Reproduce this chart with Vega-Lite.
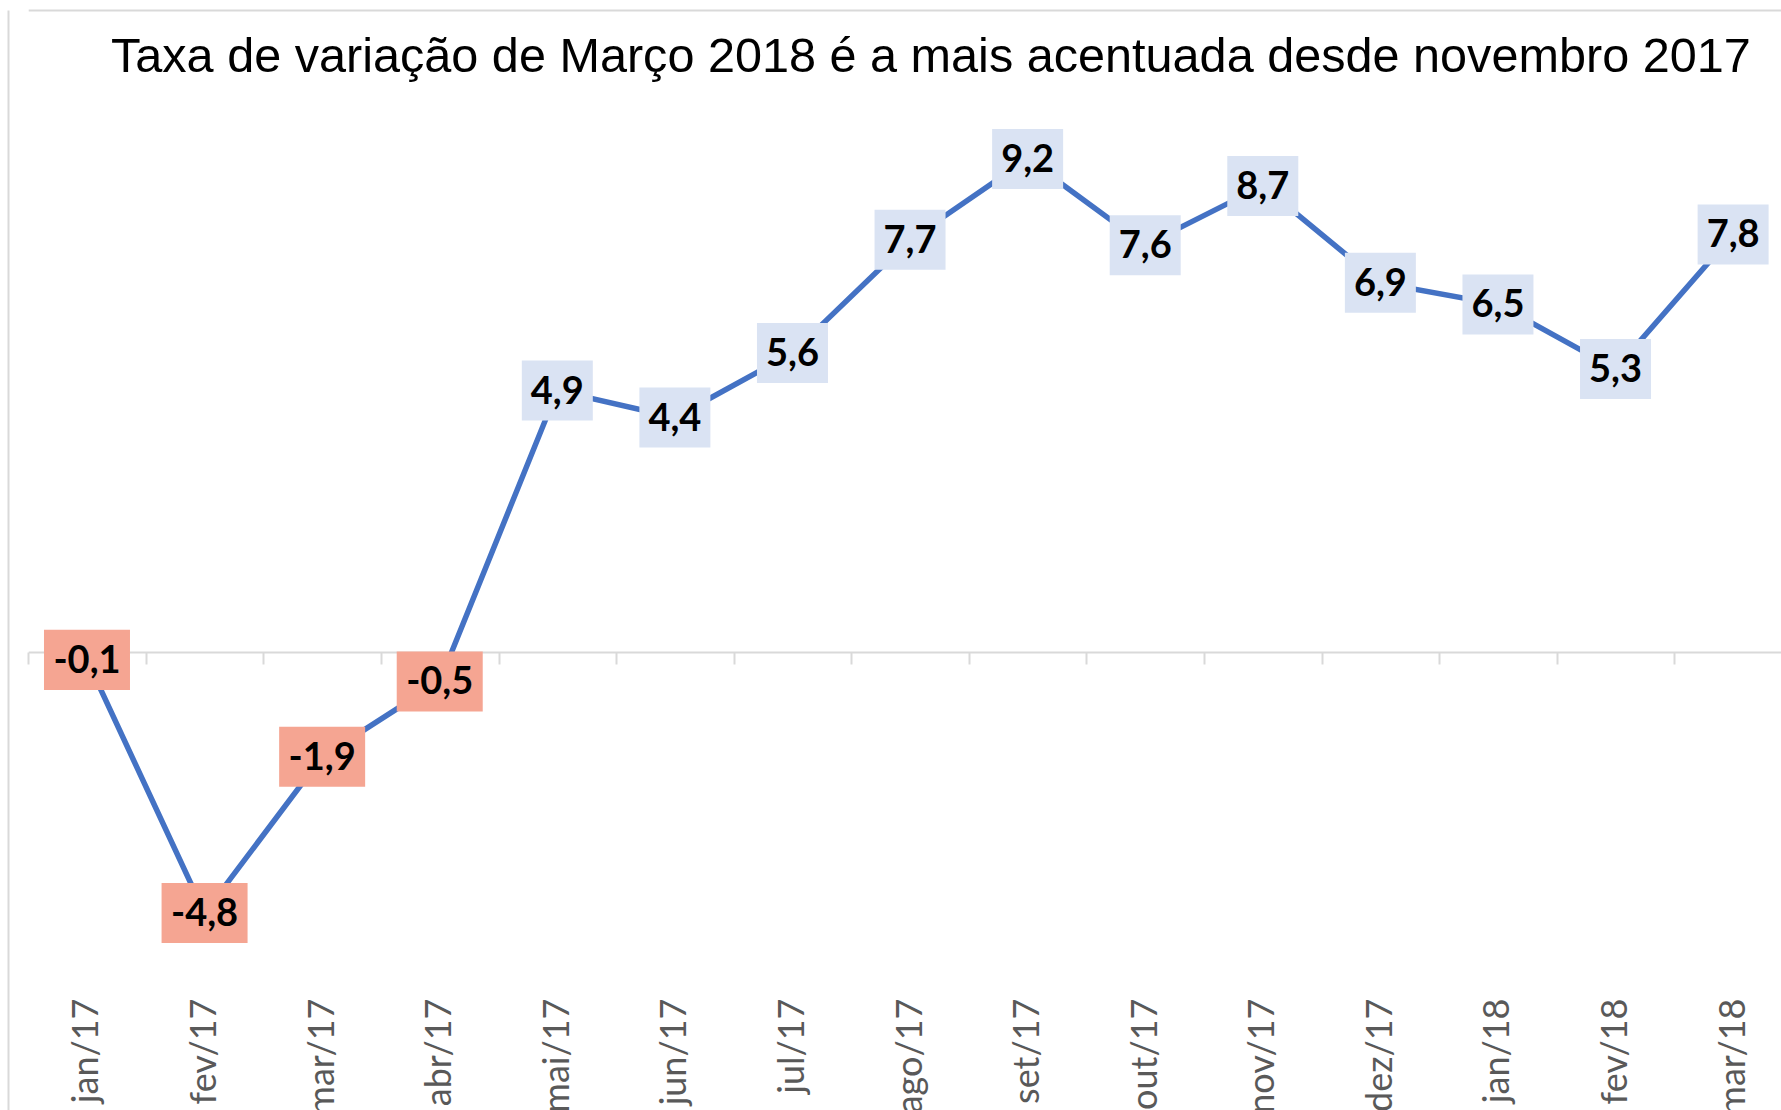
{
  "$schema": "https://vega.github.io/schema/vega-lite/v6.json",
  "autosize": "none",
  "width": 1773,
  "height": 1100,
  "padding": {"left": 8, "top": 10, "right": 0, "bottom": 0},
  "background": "white",
  "title": {
    "text": "Taxa de variação de Março 2018 é a mais acentuada desde novembro 2017",
    "font": "Liberation Sans",
    "fontSize": 48.6,
    "fontWeight": "normal",
    "color": "#000000",
    "anchor": "start",
    "frame": "group",
    "orient": "top",
    "offset": 0,
    "baseline": "alphabetic",
    "dx": 103,
    "dy": 111
  },
  "data": {
    "values": [
      {"mes": "jan/17", "v": -0.1},
      {"mes": "fev/17", "v": -4.8},
      {"mes": "mar/17", "v": -1.9},
      {"mes": "abr/17", "v": -0.5},
      {"mes": "mai/17", "v": 4.9},
      {"mes": "jun/17", "v": 4.4},
      {"mes": "jul/17", "v": 5.6},
      {"mes": "ago/17", "v": 7.7},
      {"mes": "set/17", "v": 9.2},
      {"mes": "out/17", "v": 7.6},
      {"mes": "nov/17", "v": 8.7},
      {"mes": "dez/17", "v": 6.9},
      {"mes": "jan/18", "v": 6.5},
      {"mes": "fev/18", "v": 5.3},
      {"mes": "mar/18", "v": 7.8}
    ]
  },
  "encoding": {
    "x": {
      "field": "mes",
      "type": "nominal",
      "sort": null,
      "scale": {"type": "band", "range": [20.2, 1783.9], "paddingInner": 0, "paddingOuter": 0},
      "axis": {
        "orient": "bottom",
        "offset": -458,
        "title": null,
        "domainColor": "#d9d9d9",
        "domainWidth": 2,
        "tickColor": "#d9d9d9",
        "tickWidth": 2,
        "tickSize": 12,
        "tickBand": "extent",
        "labelAngle": -90,
        "labelPadding": 334,
        "labelFont": "Lato",
        "labelFontSize": 36,
        "labelColor": "#595959",
        "labelOverlap": false,
        "grid": false,
        "encode": {"ticks": {"enter": {"y": {"value": -9}}, "update": {"y": {"value": -9}}}}
      }
    },
    "y": {
      "field": "v",
      "type": "quantitative",
      "scale": {"domain": [-8.457, 11.966], "nice": false, "zero": false},
      "axis": {
        "orient": "left",
        "title": null,
        "labels": false,
        "ticks": false,
        "domain": true,
        "domainColor": "#d9d9d9",
        "domainWidth": 2,
        "grid": true,
        "gridColor": "#d9d9d9",
        "gridWidth": 2,
        "values": [11.966]
      }
    }
  },
  "layer": [
    {
      "mark": {"type": "line", "color": "#4472c4", "strokeWidth": 5.5}
    },
    {
      "transform": [{"filter": "datum.v >= 0"}],
      "mark": {"type": "point", "shape": "M-1,-0.845H1V0.845H-1Z", "size": 5041, "filled": true, "fill": "#dae3f3", "opacity": 1, "strokeWidth": 0}
    },
    {
      "transform": [{"filter": "datum.v < 0"}],
      "mark": {"type": "point", "shape": "M-1,-0.698H1V0.698H-1Z", "size": 7396, "filled": true, "fill": "#f5a592", "opacity": 1, "strokeWidth": 0}
    },
    {
      "mark": {"type": "text", "font": "Lato", "fontWeight": "bold", "fontSize": 38, "color": "#000000", "baseline": "middle", "align": "center", "dy": 2},
      "encoding": {"text": {"field": "v", "type": "quantitative", "format": ".1f"}}
    }
  ],
  "config": {
    "view": {"stroke": null},
    "locale": {"number": {"decimal": ",", "thousands": ".", "grouping": [3], "currency": ["", ""], "minus": "-"}}
  }
}
